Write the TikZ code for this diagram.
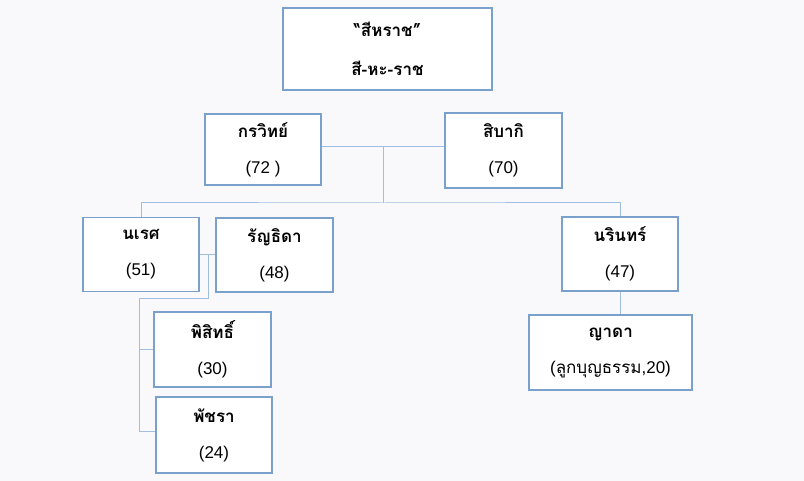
\documentclass[tikz,border=0pt]{standalone}
\usepackage{fontspec}
\setmainfont{Liberation Sans}
\newfontfamily\thaifont[Script=Thai]{Loma}
\usetikzlibrary{positioning}
\definecolor{boxblue}{RGB}{122,160,204}
\definecolor{linkblue}{RGB}{160,190,224}
\definecolor{paper}{RGB}{249,249,252}
\tikzset{
  person/.style={draw=boxblue, line width=1.4pt, fill=white, align=center,
    inner sep=0pt, minimum width=116pt, minimum height=74pt,
    font=\fontsize{17}{17}\selectfont},
  link/.style={draw=linkblue, line width=1pt},
}
\newcommand{\who}[3][19pt]{{\thaifont\bfseries #2}\\[#1]#3}

\begin{document}
\begin{tikzpicture}[x=1pt,y=-1pt]
        \fill [paper] (0,0) rectangle (804,481);

        % grandparents
        \node [person, minimum width=209pt, minimum height=82pt] (root) at (387.5,49)
            {\who[22pt]{“สีหราช”}{{\thaifont\bfseries สี-หะ-ราช}}};
        \node [person, minimum height=71pt] (kornwit) at (263,149.5) {\who{กรวิทย์}{(72 )}};
        \node [person, minimum width=117pt, minimum height=75pt] (sibaki) at (503.5,150.5) {\who{สิบากิ}{(70)}};

        % children
        \node [person] (nares) at (141,254.5) {\who{นเรศ}{(51)}};
        \node [person, minimum width=117pt] (runthida) at (274.5,255) {\who{รัญธิดา}{(48)}};
        \node [person] (narin) at (620,254) {\who{นรินทร์}{(47)}};

        % grandchildren
        \node [person, minimum width=117pt, minimum height=75pt] (pisit) at (212.5,349.5) {\who{พิสิทธิ์}{(30)}};
        \node [person, minimum height=76pt] (patchara) at (214,435) {\who{พัชรา}{(24)}};
        \node [person, minimum width=163pt, minimum height=75pt] (yada) at (610.5,352.5)
            {\who{ญาดา}{(\thaifont ลูกบุญธรรม\normalfont,20)}};

        \coordinate (m1) at (383,147);
        \coordinate (bar) at (383,203);
        \coordinate (m2) at (208,255);
        \coordinate (kids) at (139,299);

        \draw [link] (kornwit.east |- m1) -- (sibaki.west |- m1);
        \draw [link] (m1) -- (bar);
        \draw [link] (nares.north) |- (bar) -| (narin.north);

        \draw [link] (nares.east |- m2) -- (runthida.west |- m2);
        \draw [link] (m2) |- (kids) -- (kids |- 0,431) -- (patchara.west |- 0,431);
        \draw [link] (kids |- pisit.west) -- (pisit.west);

        \draw [link] (narin.south) -- (narin.south |- yada.north);
    \end{tikzpicture}
\end{document}
